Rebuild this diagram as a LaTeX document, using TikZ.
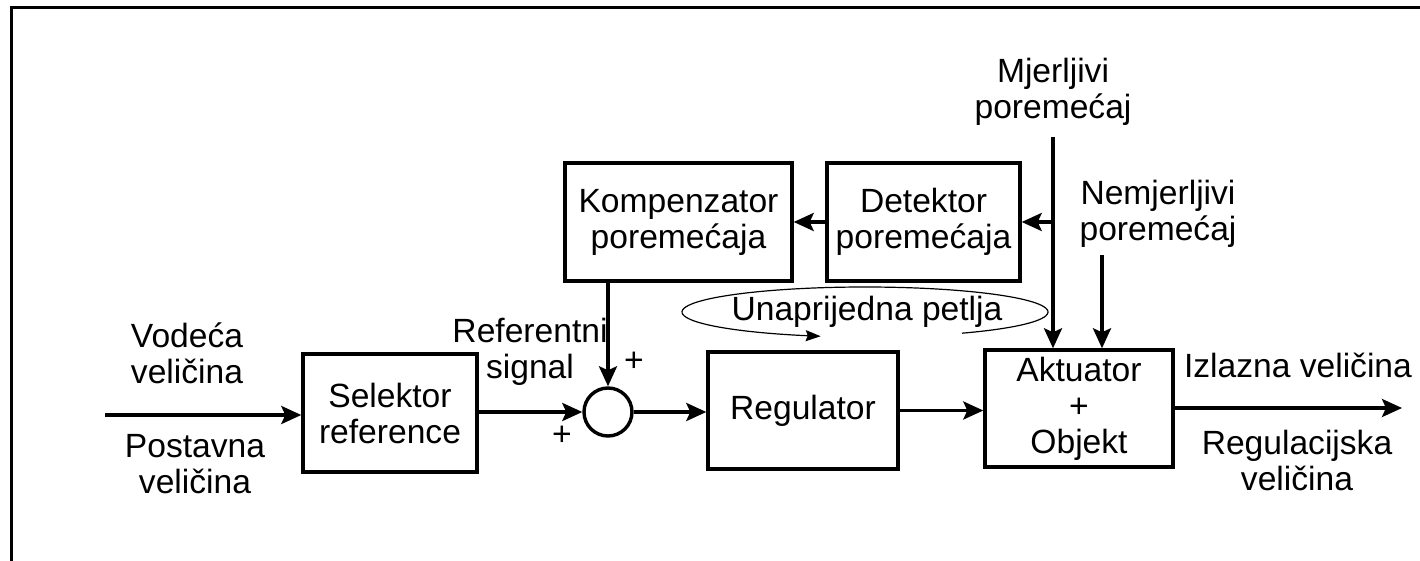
\documentclass[tikz,border=0pt]{standalone}
\usepackage{fontspec}
\setmainfont{Liberation Sans}
\usetikzlibrary{arrows.meta}
\begin{document}
\begin{tikzpicture}[x=0.5pt,y=-0.5pt,
  every node/.style={font=\fontsize{16.8}{18}\selectfont, inner sep=0pt},
  block/.style={draw, line width=1.7pt, align=center},
  lbl/.style={align=center},
  conn/.style={line width=1.7pt, -{Stealth[length=10pt,width=9pt,inset=2pt]}},
  loopline/.style={line width=0.6pt, -{Stealth[length=7.5pt,width=5.5pt,inset=1pt]}},
]
\useasboundingbox (0,0) rectangle (1420,561);

% page frame
\draw[line width=1.5pt] (1420,8) -- (11,8) -- (11,561);

% blocks
\node[block, minimum width=87pt, minimum height=59pt] (sel) at (390,413) {Selektor\\reference};
\node[draw, circle, line width=1.7pt, minimum size=24pt] (sum) at (608,412) {};
\node[block, minimum width=95pt, minimum height=58.5pt] (reg) at (803,410.5) {Regulator};
\node[block, minimum width=94pt, minimum height=58.5pt] (akt) at (1079,408.5) {Aktuator\\+\\Objekt};
\node[block, minimum width=113.5pt, minimum height=59pt] (komp) at (678.5,222) {Kompenzator\\poremećaja};
\node[block, minimum width=96.5pt, minimum height=59pt] (det) at (923.5,222) {Detektor\\poremećaja};

% free ends of signal lines
\coordinate (in) at (105,415);
\coordinate (out) at (1402,408);
\coordinate (mtop) at (1053,137);
\coordinate (mbr) at (1053,222);
\coordinate (ntop) at (1102,255);

% signal flow
\draw[conn] (in) -- (in -| sel.west);
\draw[conn] (sum.west -| sel.east) -- (sum.west);
\draw[conn] (sum.east) -- (sum.east -| reg.west);
\draw[conn] (reg.east) -- (reg.east -| akt.west);
\draw[conn] (out -| akt.east) -- (out);
\draw[conn] (komp.south -| sum.north) -- (sum.north);
\draw[conn] (det.west) -- (komp.east);
\draw[conn] (mtop) -- (mtop |- akt.north);
\draw[conn] (mbr) -- (det.east);
\draw[conn] (ntop) -- (ntop |- akt.north);

% feed-forward loop mark
\draw[loopline] plot[smooth, domain=-58:256, samples=90]
  ({865+183*cos(-\x)}, {312+25*sin(-\x)});

% labels
\node[lbl] (vod) at (187,353) {Vodeća\\veličina};
\node[lbl] (post) at (195,464) {Postavna\\veličina};
\node[lbl] (ref) at (530,352) {Referentni\\signal};
\node (p1) at (634,362) {+};
\node (p2) at (562,436) {+};
\node (unap) at (867,312) {Unaprijedna petlja};
\node[lbl] (mj) at (1053,92) {Mjerljivi\\poremećaj};
\node[lbl] (nem) at (1158,214) {Nemjerljivi\\poremećaj};
\node (izl) at (1298,365) {Izlazna veličina};
\node[lbl] (regv) at (1297,460) {Regulacijska\\veličina};
\end{tikzpicture}
\end{document}
